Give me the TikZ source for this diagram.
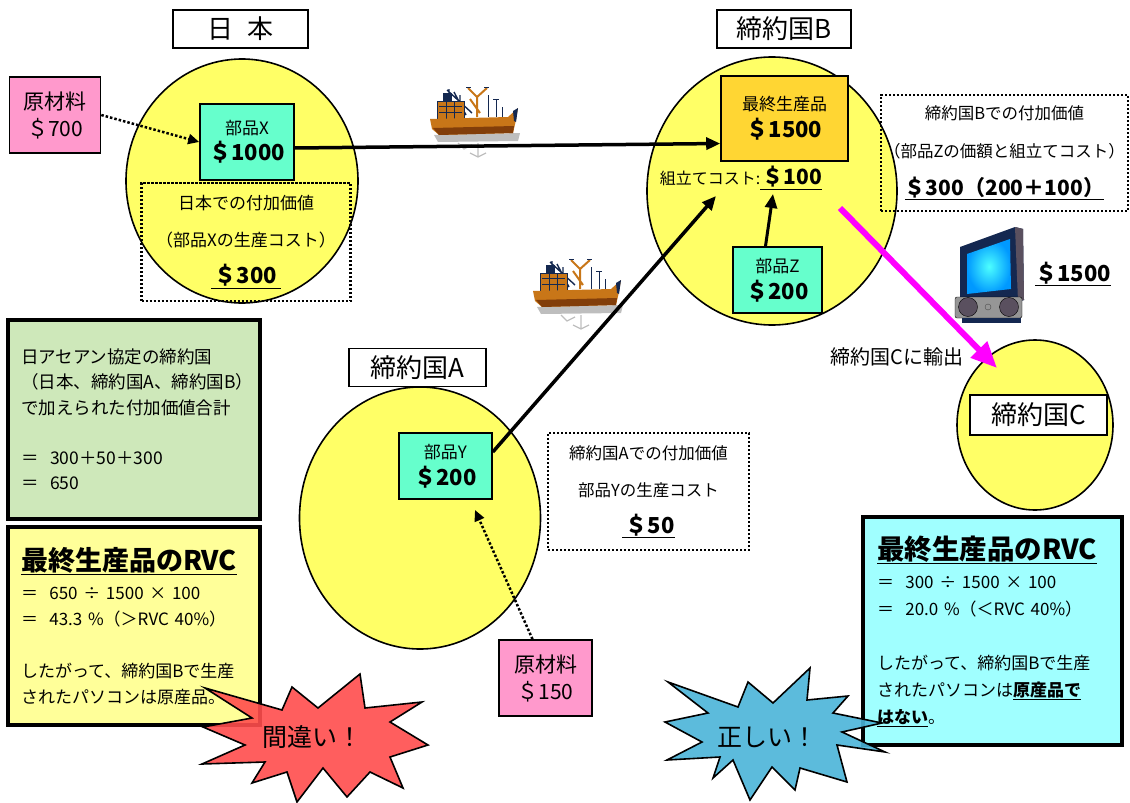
\documentclass[tikz,border=0pt]{standalone}
\usepackage{fontspec}
\setmainfont{Noto Sans CJK JP}
\usepackage{tikz}
\usetikzlibrary{arrows.meta, positioning, shapes.geometric}
\definecolor{circyellow}{RGB}{255,255,102}
\definecolor{partgreen}{RGB}{102,255,204}
\definecolor{rawpink}{RGB}{255,153,204}
\definecolor{gold}{RGB}{255,214,51}
\definecolor{sumgreen}{RGB}{206,232,186}
\definecolor{rvcyellow}{RGB}{255,255,153}
\definecolor{rvccyan}{RGB}{160,255,255}
\definecolor{burstred}{RGB}{255,77,77}
\definecolor{burstblue}{RGB}{74,180,216}
\definecolor{exportpink}{RGB}{255,0,255}
\definecolor{hullbrown}{RGB}{200,118,24}
\definecolor{hulldark}{RGB}{130,62,10}
\definecolor{shipnavy}{RGB}{20,40,80}
\definecolor{seashade}{RGB}{190,190,190}
\definecolor{tvgrey}{RGB}{150,150,150}
\definecolor{tvspeaker}{RGB}{90,80,95}
\newcommand{\fsz}[1]{\fontsize{#1}{#1}\selectfont}

% small cargo ship, origin at its top left corner
\tikzset{
  freighter/.pic={
    % shadow on the water
    \fill[seashade] (4,48) -- (90,46) -- (88,54) -- (8,55) -- cycle;
    \draw[seashade, line width=1.2pt] (28,56) -- (34,62) -- (42,58) (48,56) -- (48,70) (40,66) -- (48,70) -- (56,66);
    % masts and derricks
    \draw[shipnavy, line width=1.4pt] (19,2) -- (19,14) (17,3) -- (42,26) (30,8) -- (30,28) (24,5) -- (36,28);
    \draw[hullbrown, line width=2pt] (38,1) -- (47,10) -- (57,1) (47,10) -- (47,30) (40,12) -- (50,26);
    \draw[shipnavy, line width=1pt] (36,0) -- (41,0) (54,0) -- (59,0) (58,8) -- (58,30) (66,12) -- (66,30) (63,12) -- (69,12) (72,20) -- (72,30);
    % wheelhouse
    \filldraw[fill=hullbrown, draw=shipnavy, line width=1pt] (7,14) rectangle (34,32);
    \fill[shipnavy] (13,6) rectangle (22,14);
    \draw[shipnavy, line width=1pt] (9,19) -- (32,19) (9,25) -- (32,25) (16,14) -- (16,32) (24,14) -- (24,32);
    % hull
    \fill[hullbrown] (0,32) -- (78,30) -- (88,21) -- (86,33) -- (83,46) -- (9,48) -- (2,42) -- cycle;
    \fill[hulldark] (3,41) -- (84,39) -- (83,46) -- (9,48) -- cycle;
    \fill[shipnavy] (83,24) -- (88,21) -- (86,35) -- (84,34) -- cycle;
  }
}

\begin{document}
\begin{tikzpicture}[x=1pt, y=-1pt,
  circ/.style={ellipse, draw, line width=1.6pt, fill=circyellow, inner sep=0pt},
  country/.style={draw, line width=1.6pt, fill=white, minimum height=38pt, inner sep=0pt, font=\fsz{26}},
  box/.style={draw, line width=1.6pt, align=center, inner sep=0pt},
  addbox/.style={draw, line width=2.4pt, dash pattern=on 2.4pt off 1.6pt, align=center, inner sep=0pt},
  notebox/.style={draw, line width=4.5pt, align=left, inner sep=0pt},
  flow/.style={line width=3.5pt, -{Triangle[length=14pt,width=12pt]}},
  feed/.style={line width=2.5pt, dotted, -{Triangle[length=11pt,width=10pt]}},
  burst/.style={draw, line width=1.6pt, fill opacity=0.9, line join=miter}]
  \useasboundingbox (0,0) rectangle (1130,803);

  % Japan
  \node[circ, minimum width=232pt, minimum height=244pt] (jpCirc) at (242,181) {};
  \node[country, minimum width=135pt] (jpName) at (240.5,29) {日\hspace{14pt}本};
  \node[box, fill=rawpink, minimum width=91pt, minimum height=76pt, font=\fontsize{21}{27}\selectfont] (rawX) at (55,115) {原材料\\＄700};
  \node[box, fill=partgreen, minimum width=94pt, minimum height=76pt, font=\fontsize{17}{26}\selectfont] (partX) at (247,142) {部品X\\{\fsz{22}\bfseries ＄1000}};
  \node[addbox, minimum width=209pt, minimum height=118pt, font=\fontsize{17}{37}\selectfont] (jpAdd) at (246,242) {日本での付加価値\\（部品Xの生産コスト）\\{\fsz{22}\bfseries\underline{\,＄300\,}}};

  % Country B
  \node[circ, minimum width=250pt, minimum height=268pt] (bCirc) at (772,191) {};
  \node[country, minimum width=134pt] (bName) at (784,29) {締約国B};
  \node[box, fill=gold, minimum width=127pt, minimum height=85pt, font=\fontsize{17}{27}\selectfont] (final) at (784.5,118.5) {最終生産品\\{\fsz{22}\bfseries ＄1500}};
  \node[font=\fsz{16}] (asm) at (741,178) {組立てコスト\string:\underline{\,{\fsz{21}\bfseries ＄100}}};
  \node[box, fill=partgreen, minimum width=89pt, minimum height=66pt, font=\fontsize{17}{27}\selectfont] (partZ) at (777.5,280) {部品Z\\{\fsz{22}\bfseries ＄200}};
  \node[addbox, minimum width=247pt, minimum height=116pt, font=\fontsize{16.5}{38}\selectfont] (bAdd) at (1004.5,153) {締約国Bでの付加価値\\（部品Zの価額と組立てコスト）\\{\fsz{21}\bfseries\underline{＄300（200＋100）}}};

  % Country A
  \node[circ, minimum width=241pt, minimum height=262pt] (aCirc) at (420,518) {};
  \node[country, minimum width=137pt] (aName) at (417.5,367.5) {締約国A};
  \node[box, fill=partgreen, minimum width=93pt, minimum height=66pt, font=\fontsize{17}{27}\selectfont] (partY) at (445.5,466) {部品Y\\{\fsz{22}\bfseries ＄200}};
  \node[box, fill=rawpink, minimum width=93pt, minimum height=76pt, font=\fontsize{21}{27}\selectfont] (rawY) at (545.5,678) {原材料\\＄150};
  \node[addbox, minimum width=201pt, minimum height=117pt, font=\fontsize{16.5}{37}\selectfont] (aAdd) at (648.5,491.5) {締約国Aでの付加価値\\部品Yの生産コスト\\{\fsz{22}\bfseries\underline{\,＄50}}};

  % Country C
  \node[circ, minimum width=156pt, minimum height=170pt] (cCirc) at (1035,425) {};
  \node[country, minimum width=137pt, minimum height=40pt] (cName) at (1038.5,415) {締約国C};

  % shipping
  \pic at (430,87) {freighter};
  \pic at (533,259) {freighter};

  % flows of parts
  \coordinate (asmIn) at (716,196);
  \coordinate (zIn) at (773,194);
  \coordinate (yIn) at (475,510);
  \draw[feed] (rawX.east) -- (partX.west);
  \draw[flow] ([yshift=-6pt]partX.east) -- ([yshift=-25pt]final.west);
  \draw[flow] ([yshift=14pt]partY.east) -- (asmIn);
  \draw[flow, line width=3pt] ([xshift=-12pt]partZ.north) -- (zIn);
  \draw[feed] ([xshift=-13pt]rawY.north) -- (yIn);

  % export to C
  \coordinate (exFrom) at (840,208);
  \coordinate (exTo) at (997,368);
  \draw[line width=6pt, exportpink, -{Triangle[length=26pt,width=22pt]}] (exFrom) -- (exTo);
  \node[font=\fsz{20}] (exLbl) at (897,357) {締約国Cに輸出};

  % monitor
  \fill[shipnavy] (960,247) -- (1015,227) -- (1023,229) -- (1024,300) -- (1018,302) -- (960,304) -- cycle;
  \fill[tvspeaker] (1015,227) -- (1023,229) -- (1024,300) -- (1018,301) -- cycle;
  \shade[inner color=cyan!70, outer color=cyan!60!blue] (967,254) -- (1010,239) -- (1011,289) -- (967,294) -- cycle;
  \filldraw[fill=tvgrey, draw=black, rounded corners=2pt] (955,297) rectangle (1022,318);
  \filldraw[fill=tvspeaker, draw=black] (968,307) circle (9.5pt) (1009,307) circle (9.5pt);
  \draw[black!70] (988,307) circle (3pt);
  \fill[shipnavy] (962,318) rectangle (1021,323);
  \node[font=\fsz{22}\bfseries] (tvPrice) at (1073,274) {\underline{＄1500}};

  % totals
  \node[notebox, fill=sumgreen, minimum width=252pt, minimum height=199pt, text width=226pt, font=\fontsize{17.5}{25.2}\selectfont] (sumBox) at (134,419.5) {日アセアン協定の締約国\\（日本、締約国A、締約国B）\\で加えられた付加価値合計\\[25.2pt]＝\ \ 300＋50＋300\\＝\ \ 650};
  \node[notebox, fill=rvcyellow, minimum width=252pt, minimum height=198pt, text width=226pt, font=\fontsize{17}{26}\selectfont] (rvcJp) at (134,626) {{\fsz{27}\bfseries\underline{最終生産品のRVC}}\\[3pt]＝\ \ 650 ÷ 1500 × 100\\＝\ \ 43.3 \%（＞RVC 40\%）\\[26pt]したがって、締約国Bで生産\\されたパソコンは原産品。};
  \node[notebox, fill=rvccyan, minimum width=259pt, minimum height=228pt, text width=231pt, font=\fontsize{17}{27}\selectfont] (rvcB) at (992.5,631) {{\fsz{27.5}\bfseries\underline{最終生産品のRVC}}\\[2pt]＝\ \ 300 ÷ 1500 × 100\\＝\ \ 20.0 \%（＜RVC 40\%）\\[27pt]したがって、締約国Bで生産\\されたパソコンは\textbf{\underline{原産品で}}\\\textbf{\underline{はない}}。};

  % wrong / right
  \filldraw[burst, fill=burstred] (205,688) -- (282,710) -- (292,687) -- (318,708) -- (360,674) -- (365,708) -- (422,702) -- (390,722) -- (428,745) -- (390,757) -- (403,788) -- (370,772) -- (347,797) -- (323,768) -- (297,802) -- (287,772) -- (252,783) -- (265,762) -- (202,764) -- (245,745) -- (203,727) -- (252,718) -- cycle;
  \node[font=\fsz{25}] (ngMark) at (312,737) {間違い！};
  \filldraw[burst, fill=burstblue] (668,682) -- (738,707) -- (748,682) -- (773,703) -- (810,668) -- (807,700) -- (848,696) -- (833,713) -- (882,723) -- (842,732) -- (885,752) -- (837,745) -- (847,782) -- (800,768) -- (795,790) -- (772,767) -- (750,800) -- (733,760) -- (713,778) -- (720,757) -- (667,760) -- (702,742) -- (665,722) -- (708,713) -- cycle;
  \node[font=\fsz{25}] (okMark) at (767,737) {正しい！};
\end{tikzpicture}
\end{document}
